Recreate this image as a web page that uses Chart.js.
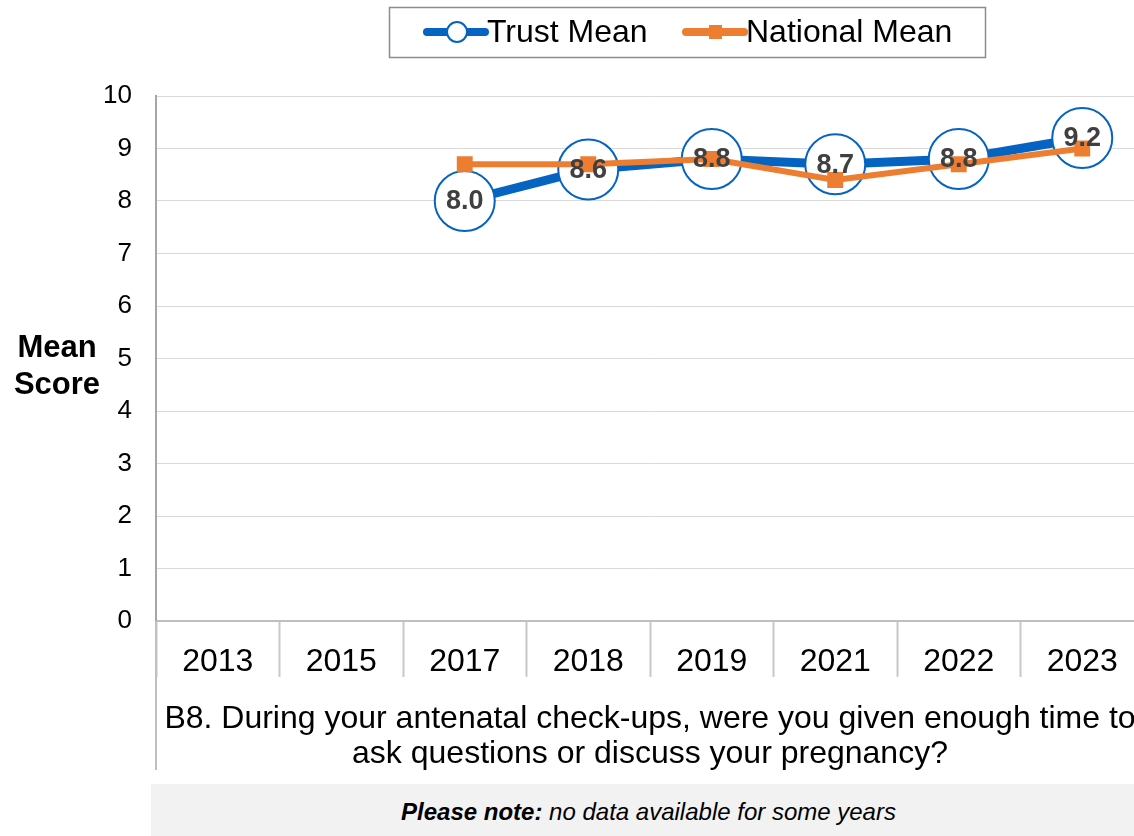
<!DOCTYPE html>
<html>
<head>
<meta charset="utf-8">
<script src="https://cdn.jsdelivr.net/npm/chart.js@4/dist/chart.umd.min.js"></script>
<style>
  html, body { margin: 0; padding: 0; background: #fff; overflow: hidden; }
  #wrap { position: relative; width: 1134px; height: 836px; overflow: hidden; }
  #chart { position: absolute; left: 0; top: 0; }
  #note {
    position: absolute; left: 151px; top: 784px; width: 983px; height: 52px;
    background: #f2f2f2; font-family: "Liberation Sans", Arial, sans-serif;
    font-size: 24px; font-style: italic; color: #000;
    text-align: center; line-height: 56px; padding-left: 12px; box-sizing: border-box;
  }
</style>
</head>
<body>
<div id="wrap">
  <canvas id="chart" width="1146" height="836"></canvas>
  <div id="note"><b>Please note:</b> no data available for some years</div>
</div>
<script>
// chart data
const years = ["2013", "2015", "2017", "2018", "2019", "2021", "2022", "2023"];
const trustMean = [null, null, 8.0, 8.6, 8.8, 8.7, 8.8, 9.2];
const nationalMean = [null, null, 8.7, 8.7, 8.8, 8.4, 8.7, 9.0];
const yTicks = [0, 1, 2, 3, 4, 5, 6, 7, 8, 9, 10];
const xTitle = ["B8. During your antenatal check-ups, were you given enough time to",
                "ask questions or discuss your pregnancy?"];

const BLUE = "#0563c1";
const ORANGE = "#ed7d31";
const FONT = "'Liberation Sans', Arial, sans-serif";

// labels on the trust points
const pointLabels = {
  id: "pointLabels",
  afterDatasetsDraw(chart) {
    const ctx = chart.ctx;
    const meta = chart.getDatasetMeta(0);
    ctx.save();
    ctx.font = "bold 27px " + FONT;
    ctx.fillStyle = "#404040";
    ctx.textAlign = "center";
    ctx.textBaseline = "middle";
    meta.data.forEach((pt, i) => {
      if (trustMean[i] == null) return;
      ctx.fillText(trustMean[i].toFixed(1), pt.x, pt.y + 1);
    });
    ctx.restore();
  }
};

// legend box, y title and the long left axis line
const extras = {
  id: "extras",
  afterDraw(chart) {
    const ctx = chart.ctx;
    const area = chart.chartArea;
    ctx.save();
    // left axis down through the title area
    ctx.strokeStyle = "#bfbfbf";
    ctx.lineWidth = 2;
    ctx.beginPath();
    ctx.moveTo(area.left, area.bottom);
    ctx.lineTo(area.left, 770);
    ctx.stroke();

    // y title
    ctx.fillStyle = "#000";
    ctx.font = "bold 31px " + FONT;
    ctx.textAlign = "center";
    ctx.textBaseline = "middle";
    ctx.fillText("Mean", 57, 348);
    ctx.fillText("Score", 57, 385);

    // legend
    ctx.strokeStyle = "#8c8c8c";
    ctx.lineWidth = 1.5;
    ctx.strokeRect(389.5, 7.5, 596, 50);
    const ds = chart.data.datasets;
    const items = [
      { x: 427, text: ds[0].label },
      { x: 686, text: ds[1].label }
    ];
    items.forEach((it, i) => {
      ctx.lineCap = "round";
      ctx.strokeStyle = ds[i].borderColor;
      ctx.lineWidth = 8;
      ctx.beginPath();
      ctx.moveTo(it.x, 32);
      ctx.lineTo(it.x + 58, 32);
      ctx.stroke();
      ctx.lineCap = "butt";
      if (i === 0) {
        ctx.fillStyle = "#fff";
        ctx.strokeStyle = BLUE;
        ctx.lineWidth = 2;
        ctx.beginPath();
        ctx.arc(it.x + 30, 32, 10, 0, Math.PI * 2);
        ctx.fill();
        ctx.stroke();
      } else {
        ctx.fillStyle = ORANGE;
        ctx.fillRect(it.x + 23, 25, 13, 14);
      }
      ctx.fillStyle = "#000";
      ctx.font = "32px " + FONT;
      ctx.textAlign = "left";
      ctx.fillText(it.text, it.x + 60, 33);
    });
    ctx.restore();
  }
};

new Chart(document.getElementById("chart"), {
  type: "line",
  data: {
    labels: years,
    datasets: [
      {
        label: "Trust Mean",
        data: trustMean,
        borderColor: BLUE,
        borderWidth: 9,
        pointRadius: 30,
        pointBorderWidth: 2,
        pointBackgroundColor: "#fff",
        pointBorderColor: BLUE,
        order: 2
      },
      {
        label: "National Mean",
        data: nationalMean,
        borderColor: ORANGE,
        borderWidth: 6,
        pointStyle: "rect",
        pointRadius: 7,
        pointBackgroundColor: ORANGE,
        pointBorderColor: ORANGE,
        order: 1
      }
    ]
  },
  options: {
    responsive: false,
    animation: false,
    devicePixelRatio: 1,
    layout: { autoPadding: false, padding: { top: 96, bottom: 65, left: 0, right: 2 } },
    plugins: { legend: { display: false }, tooltip: { enabled: false } },
    scales: {
      x: {
        offset: true,
        grid: {
          offset: true,
          drawOnChartArea: false,
          drawTicks: true,
          tickLength: 56,
          tickColor: "#c8c8c8",
          tickWidth: 2
        },
        border: { color: "#bfbfbf", width: 2 },
        ticks: {
          padding: -34,
          color: "#000",
          font: { family: FONT, size: 32 },
          maxRotation: 0
        },
        title: {
          display: true,
          text: xTitle,
          color: "#000",
          font: { family: FONT, size: 32, lineHeight: 1.07 },
          padding: { top: 0, bottom: 0 }
        },
        afterFit(scale) {
          scale.height = 150;
          scale.paddingLeft = 0;
          scale.paddingRight = 0;
        }
      },
      y: {
        min: 0,
        max: 10,
        afterBuildTicks(scale) { scale.ticks = yTicks.map(v => ({ value: v })); },
        grid: { color: "#d9d9d9", lineWidth: 1, drawTicks: false },
        border: { color: "#a6a6a6", width: 2 },
        ticks: {
          padding: 24,
          color: "#000",
          font: { family: FONT, size: 26 }
        },
        afterFit(scale) { scale.width = 156; }
      }
    }
  },
  plugins: [pointLabels, extras]
});
</script>
</body>
</html>
